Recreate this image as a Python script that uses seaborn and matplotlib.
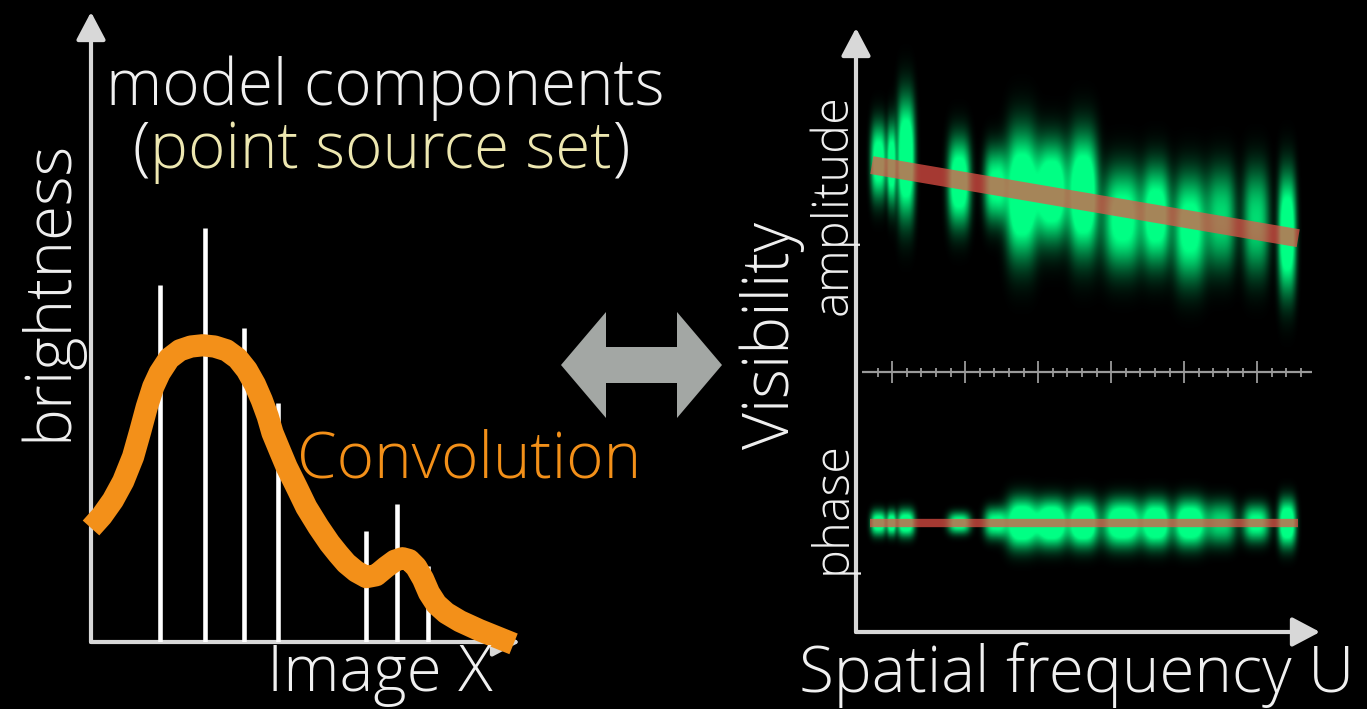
import numpy as np
import matplotlib
matplotlib.use("Agg")
import matplotlib.pyplot as plt
import seaborn as sns
from matplotlib.patches import Polygon

# ---------------- data ----------------
# left panel: point-source model components (Image X, brightness)
comp_x = [1.62, 2.65, 3.56, 4.37, 6.42, 7.14, 7.86]
comp_h = [5.67, 6.57, 4.98, 3.79, 1.76, 2.19, 1.21]

# convolved brightness profile
conv_x = [0.00, 0.25, 0.51, 0.75, 0.98, 1.15, 1.30, 1.45, 1.60, 1.82, 2.07, 2.33, 2.60, 2.88,
          3.16, 3.42, 3.63, 3.82, 3.98, 4.12, 4.23, 4.40, 4.56, 4.80, 5.02, 5.30, 5.56, 5.76,
          5.95, 6.18, 6.42, 6.65, 6.88, 7.08, 7.26, 7.42, 7.58, 7.74, 7.88, 8.05, 8.28,
          8.60, 9.05, 9.45, 9.85]
conv_y = [1.81, 2.00, 2.25, 2.55, 2.94, 3.35, 3.73, 4.05, 4.27, 4.50, 4.63, 4.69, 4.71, 4.69,
          4.63, 4.50, 4.32, 4.09, 3.84, 3.58, 3.32, 3.04, 2.78, 2.45, 2.14, 1.83, 1.57, 1.40,
          1.25, 1.12, 1.03, 1.06, 1.19, 1.29, 1.33, 1.30, 1.19, 1.00, 0.78, 0.60, 0.46,
          0.33, 0.19, 0.08, -0.03]

# right panel: visibility sample groups (spatial frequency U)
grp_u = [0.48, 0.76, 1.07, 2.22, 3.00, 3.57, 4.22, 4.90, 5.75, 6.48, 7.20, 7.88, 8.63, 9.30]
grp_halfw = [0.17, 0.09, 0.19, 0.24, 0.24, 0.33, 0.33, 0.31, 0.42, 0.29, 0.35, 0.31, 0.28, 0.19]
amp_center = [7.80, 7.75, 7.85, 7.45, 7.40, 7.25, 7.30, 7.25, 6.85, 6.90, 6.70, 6.85, 6.80, 6.60]
amp_halfh = [0.60, 0.65, 0.95, 0.70, 0.60, 1.00, 0.80, 0.95, 0.80, 0.80, 0.85, 0.80, 0.85, 0.95]
amp_level = [0.85, 0.85, 1.00, 0.90, 0.75, 1.00, 0.95, 1.00, 0.80, 0.85, 0.80, 0.60, 0.60, 0.95]
phase_center = [1.80] * 14
phase_halfh = [0.20, 0.20, 0.22, 0.17, 0.25, 0.40, 0.38, 0.38, 0.38, 0.38, 0.38, 0.35, 0.30, 0.38]
phase_level = [0.85, 0.85, 0.90, 0.80, 0.75, 1.00, 1.00, 1.00, 0.95, 0.95, 0.95, 0.60, 0.75, 0.95]

# model fits
amp_model_u = [0.34, 9.53]
amp_model_v = [7.73, 6.52]
phase_model_u = [0.30, 9.53]
phase_model_v = [1.80, 1.80]

# separator "ruler"
ruler_v = 4.30
ruler_u = [0.13, 9.83]
ruler_tick_start = 0.465
ruler_tick_step = 0.3146
ruler_tick_count = 30

# ---------------- style ----------------
sns.set_theme(style="dark")
plt.rcParams["font.family"] = ["Open Sans", "DejaVu Sans"]
plt.rcParams["font.weight"] = "light"

W, H = 1367, 709
BG = "black"
WHITE = "#f0f0f0"
AXC = "#d8d8d8"
ORANGE = "#f39019"
YELLOW = "#ede7b0"
GREEN = (0.0, 1.0, 0.52)
RED = "#ec5248"

fig = plt.figure(figsize=(W / 100, H / 100), dpi=100, facecolor=BG)


def fx(px):
    return px / W


def fy(py):
    return 1 - py / H


def make_axes(x0, x1, ytop, ybot):
    ax = fig.add_axes([fx(x0), fy(ybot), (x1 - x0) / W, (ybot - ytop) / H])
    ax.set_facecolor("none")
    ax.set_xlim(0, 10)
    ax.set_ylim(0, 10)
    for s in ax.spines.values():
        s.set_visible(False)
    ax.set_xticks([])
    ax.set_yticks([])
    ax.grid(False)
    arrow = dict(arrowstyle="-|>,head_length=0.85,head_width=0.45", color=AXC, lw=3,
                 mutation_scale=20, shrinkA=0, shrinkB=0)
    ax.annotate("", xy=(0, 1), xytext=(0, 0), xycoords="axes fraction", arrowprops=arrow)
    ax.annotate("", xy=(1, 0), xytext=(0, 0), xycoords="axes fraction", arrowprops=arrow)
    return ax


# ---------------- left panel ----------------
axL = make_axes(91, 520, 12, 642)
axL.vlines(comp_x, 0, comp_h, color="white", lw=3.3, zorder=3)
sns.lineplot(x=conv_x, y=conv_y, sort=False, ax=axL, color=ORANGE, lw=16,
             solid_capstyle="butt", solid_joinstyle="round", clip_on=False, zorder=4)

# ---------------- right panel ----------------
axR = make_axes(856, 1320, 28, 632)

uu = np.linspace(0, 10, 600)
vv = np.linspace(0, 10, 800)
U, V = np.meshgrid(uu, vv)
dens = np.zeros_like(U)
for c, w, vc, hh, lv in zip(grp_u, grp_halfw, amp_center, amp_halfh, amp_level):
    dens += lv * np.exp(-np.abs((U - c) / w) ** 3) * np.exp(-np.abs((V - vc) / hh) ** 2.4)
for c, w, vc, hh, lv in zip(grp_u, grp_halfw, phase_center, phase_halfh, phase_level):
    dens += lv * np.exp(-np.abs((U - c) / w) ** 3) * np.exp(-np.abs((V - vc) / hh) ** 2.4)
rgba = np.zeros(dens.shape + (4,))
rgba[..., 0] = GREEN[0]
rgba[..., 1] = GREEN[1]
rgba[..., 2] = GREEN[2]
rgba[..., 3] = np.clip(dens * 1.45, 0, 1)
axR.imshow(rgba, extent=(0, 10, 0, 10), origin="lower", aspect="auto",
           interpolation="bilinear", zorder=1)

sns.lineplot(x=amp_model_u, y=amp_model_v, ax=axR, color=RED, lw=13, alpha=0.7,
             solid_capstyle="butt", zorder=3)
sns.lineplot(x=phase_model_u, y=phase_model_v, ax=axR, color=RED, lw=6, alpha=0.7,
             solid_capstyle="butt", zorder=3)

# ruler separator
axR.hlines(ruler_v, ruler_u[0], ruler_u[1], color="#9a9a9a", lw=1.6, zorder=2)
ticks = ruler_tick_start + ruler_tick_step * np.arange(ruler_tick_count)
minor = [t for i, t in enumerate(ticks) if (i - 1) % 5 != 0]
major = [t for i, t in enumerate(ticks) if (i - 1) % 5 == 0]
axR.vlines(minor, ruler_v - 0.07, ruler_v + 0.07, color="#9a9a9a", lw=1.3, zorder=2)
axR.vlines(major, ruler_v - 0.18, ruler_v + 0.18, color="#9a9a9a", lw=1.3, zorder=2)

# ---------------- double arrow ----------------
cx, cy = 641.5, 365
half_len, head_len, head_half, shaft_half = 80.5, 45, 53, 18
pts_px = [(cx - half_len, cy), (cx - half_len + head_len, cy - head_half),
          (cx - half_len + head_len, cy - shaft_half), (cx + half_len - head_len, cy - shaft_half),
          (cx + half_len - head_len, cy - head_half), (cx + half_len, cy),
          (cx + half_len - head_len, cy + head_half), (cx + half_len - head_len, cy + shaft_half),
          (cx - half_len + head_len, cy + shaft_half), (cx - half_len + head_len, cy + head_half)]
fig.patches.append(Polygon([(fx(a), fy(b)) for a, b in pts_px], closed=True,
                           transform=fig.transFigure, facecolor="#a3a7a4", edgecolor="none"))

# ---------------- texts ----------------
BIG = 46
SMALL = 35
fig.text(fx(385), fy(105), "model components", ha="center", va="baseline", size=BIG, color=WHITE)

renderer = fig.canvas.get_renderer()
parts = [("(", WHITE), ("point source set", YELLOW), (")", WHITE)]
objs = [fig.text(0, fy(168), s, ha="left", va="baseline", size=BIG, color=c) for s, c in parts]
widths = [o.get_window_extent(renderer).width for o in objs]
xstart = 381 - sum(widths) / 2
for o, w in zip(objs, widths):
    o.set_x(fx(xstart))
    xstart += w

fig.text(fx(297), fy(478), "Convolution", ha="left", va="baseline", size=BIG, color=ORANGE)
fig.text(fx(380), fy(691), "Image X", ha="center", va="baseline", size=BIG, color=WHITE)
fig.text(fx(50), fy(290), "brightness", ha="center", va="center", rotation=90, size=BIG, color=WHITE)

fig.text(fx(1077), fy(692), "Spatial frequency U", ha="center", va="baseline", size=BIG, color=WHITE)
fig.text(fx(772), fy(335), "Visibility", ha="center", va="center", rotation=90, size=BIG, color=WHITE)
fig.text(fx(833), fy(205), "amplitude", ha="center", va="center", rotation=90, size=SMALL, color=WHITE)
fig.text(fx(833), fy(508), "phase", ha="center", va="center", rotation=90, size=SMALL, color=WHITE)

fig.savefig("out.png", dpi=100, facecolor=BG)
